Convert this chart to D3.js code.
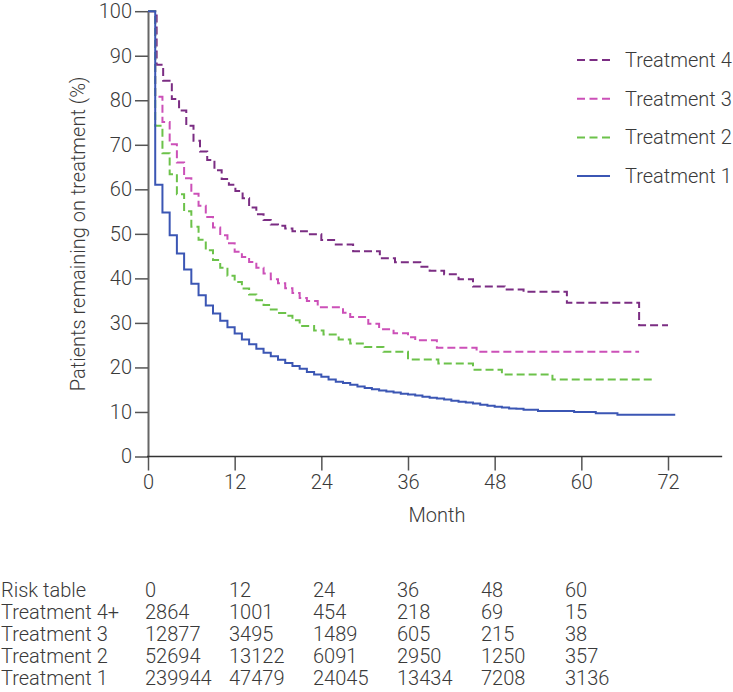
<!DOCTYPE html>
<html><head><meta charset="utf-8">
<script src="https://cdn.jsdelivr.net/npm/d3@7"></script>
<style>
body{margin:0;background:#fff}
text{font-family:Roboto,"Open Sans",sans-serif;font-weight:300;fill:#3a3a3a}
</style>
</head><body>
<svg id="c" width="733" height="692"></svg>
<script>
const seriesNames = ["Treatment 1","Treatment 2","Treatment 3","Treatment 4"];
const seriesColors = ["#3b56b4","#6cc24a","#cc50b8","#7b2d83"];

const t1Month = [0,1,2,3,4,5,6,7,8,9,10,11,12,13,14,15,16,17,18,19,20,21,22,23,24,25,26,27,28,29,30,31,32,33,34,35,36,37,38,39,40,41,42,43,44,45,46,47,48,49,50,51,52,54,59,62,65];
const t1Pct = [100,61.0,54.8,49.7,45.6,42.0,38.8,36.2,33.9,32.1,30.5,29.0,27.6,26.3,25.2,24.2,23.3,22.5,21.7,21.0,20.3,19.7,19.0,18.4,17.9,17.3,16.8,16.5,16.1,15.7,15.4,15.1,14.8,14.6,14.4,14.1,13.9,13.7,13.4,13.2,13.0,12.8,12.5,12.3,12.1,11.9,11.6,11.4,11.2,11.0,10.8,10.7,10.5,10.2,10.0,9.7,9.4];

const t2Month = [0,1,2,3,4,5,6,7,8,9,10,11,12,13,14,15,16,17,18,19,20,21,23,24.3,26.4,28,30,32.6,36,40.2,45,49,56];
const t2Pct = [100,74.3,68.1,63.4,58.9,55.1,51.6,48.7,46.3,44.1,42.4,40.6,39.2,37.7,36.4,35.1,34.0,33.0,32.2,31.6,30.6,29.3,28.3,27.4,26.3,25.4,24.6,23.5,21.8,20.9,19.5,18.4,17.3];

const t3Month = [0,1,2,3,4,5,6,7,8,9,10,11,12,13,14,15,16,17,18,19,20,21,22,23.5,27,28,30.5,32,34,36,37,40,45.5];
const t3Pct = [100,80.8,75.1,70.1,66.0,62.5,59.0,56.3,53.8,51.4,49.7,47.9,46.0,44.8,43.7,42.4,41.1,39.8,38.9,37.8,36.7,35.6,34.9,33.5,32.3,31.3,29.8,28.6,27.7,26.8,26.1,24.4,23.5];

const t4Month = [0,1.2,2.1,3.3,4.3,5.3,6.3,7.2,8.2,9.2,10.2,11.2,12.1,13.1,14,15,16,17,18,19,20,22,24,26,28.4,32.1,34.2,37.7,39,41,43,45,49.4,52,58,68];
const t4Pct = [100,88.0,84.4,80.3,77.7,74.3,70.9,68.5,66.6,64.3,62.3,61.0,59.6,58.0,55.9,54.4,53.1,52.1,51.8,51.2,50.6,49.9,48.6,47.6,46.1,44.5,43.6,42.6,41.7,40.9,39.8,38.2,37.5,37.0,34.5,29.5];

const seriesEnd = [73, 70.2, 68, 72];

const xTicks = [0,12,24,36,48,60,72];
const yTicks = [0,10,20,30,40,50,60,70,80,90,100];

const riskMonths = [0,12,24,36,48,60];
const riskLabels = ["Treatment 4+","Treatment 3","Treatment 2","Treatment 1"];
const risk4 = [2864,1001,454,218,69,15];
const risk3 = [12877,3495,1489,605,215,38];
const risk2 = [52694,13122,6091,2950,1250,357];
const risk1 = [239944,47479,24045,13434,7208,3136];

const svg = d3.select("#c");
const x = d3.scaleLinear().domain([0,72]).range([148,668]);
const y = d3.scaleLinear().domain([0,100]).range([456.5,11.2]);

const months = [t1Month,t2Month,t3Month,t4Month];
const pcts = [t1Pct,t2Pct,t3Pct,t4Pct];
const series = seriesNames.map((name,i)=>{
  const pts = months[i].map((m,j)=>({m, v:pcts[i][j]}));
  pts.push({m:seriesEnd[i], v:pcts[i][pcts[i].length-1]});
  return {name, color:seriesColors[i], pts, dashed:i>0};
});
const line = d3.line().x(d=>x(d.m)).y(d=>y(d.v)).curve(d3.curveStepAfter);

const FS = "20px";

const yAxis = svg.append("g").attr("transform",`translate(${x(0)},0)`)
  .call(d3.axisLeft(y).tickValues(yTicks).tickSize(13).tickPadding(3).tickSizeOuter(0));
yAxis.select(".domain").attr("stroke","#666").attr("stroke-width",2);
yAxis.selectAll(".tick line").attr("stroke","#555").attr("stroke-width",1.5);
yAxis.selectAll(".tick text").style("font-size",FS).attr("fill","#3a3a3a").style("font-family","Roboto,sans-serif").style("font-weight",300);

const xAxis = svg.append("g").attr("transform",`translate(0,${y(0)})`)
  .call(d3.axisBottom(x).tickValues(xTicks).tickSize(14).tickPadding(4).tickSizeOuter(0));
xAxis.select(".domain").remove();
xAxis.selectAll(".tick line").attr("stroke","#555").attr("stroke-width",1.5);
xAxis.selectAll(".tick text").style("font-size",FS).attr("fill","#3a3a3a").style("font-family","Roboto,sans-serif").style("font-weight",300);
svg.append("line").attr("x1",x(0)-1).attr("x2",x(79.5)).attr("y1",y(0)).attr("y2",y(0))
  .attr("stroke","#333").attr("stroke-width",1.5);

svg.append("g").selectAll("path").data(series.slice().reverse()).join("path")
  .attr("d",d=>line(d.pts)).attr("fill","none").attr("stroke",d=>d.color)
  .attr("stroke-width",2).attr("stroke-dasharray",d=>d.dashed?"8,4":null);

svg.append("text").attr("transform",`translate(78,${(y(0)+y(100))/2}) rotate(-90)`)
  .attr("text-anchor","middle").attr("dominant-baseline","central").style("font-size","20px")
  .text("Patients remaining on treatment (%)");
svg.append("text").attr("x",437).attr("y",515).attr("text-anchor","middle")
  .attr("dominant-baseline","central").style("font-size",FS).text("Month");

const leg = svg.append("g").selectAll("g").data(series.slice().reverse()).join("g")
  .attr("transform",(d,i)=>`translate(577,${60+i*38.7})`);
leg.append("line").attr("x1",0).attr("x2",33).attr("stroke",d=>d.color).attr("stroke-width",2)
  .attr("stroke-dasharray",d=>d.dashed?"8,4.5":null);
leg.append("text").attr("x",48).attr("dominant-baseline","central").style("font-size",FS).text(d=>d.name);

const cx = d3.scaleLinear().domain([0,60]).range([145,565]);
const rowY = d3.scaleLinear().domain([0,4]).range([590,678]);
const table = svg.append("g").style("font-size",FS);
table.append("text").attr("x",1).attr("y",rowY(0)).attr("dominant-baseline","central").text("Risk table");
table.selectAll("text.h").data(riskMonths).join("text").attr("class","h")
  .attr("x",d=>cx(d)).attr("y",rowY(0)).attr("dominant-baseline","central").text(d=>d);
const riskRows = [risk4,risk3,risk2,risk1];
riskRows.forEach((row,r)=>{
  table.append("text").attr("x",1).attr("y",rowY(r+1)).attr("dominant-baseline","central").text(riskLabels[r]);
  table.selectAll(null).data(row).join("text")
    .attr("x",(d,i)=>cx(riskMonths[i])).attr("y",rowY(r+1)).attr("dominant-baseline","central").text(d=>d);
});
</script>
</body></html>
